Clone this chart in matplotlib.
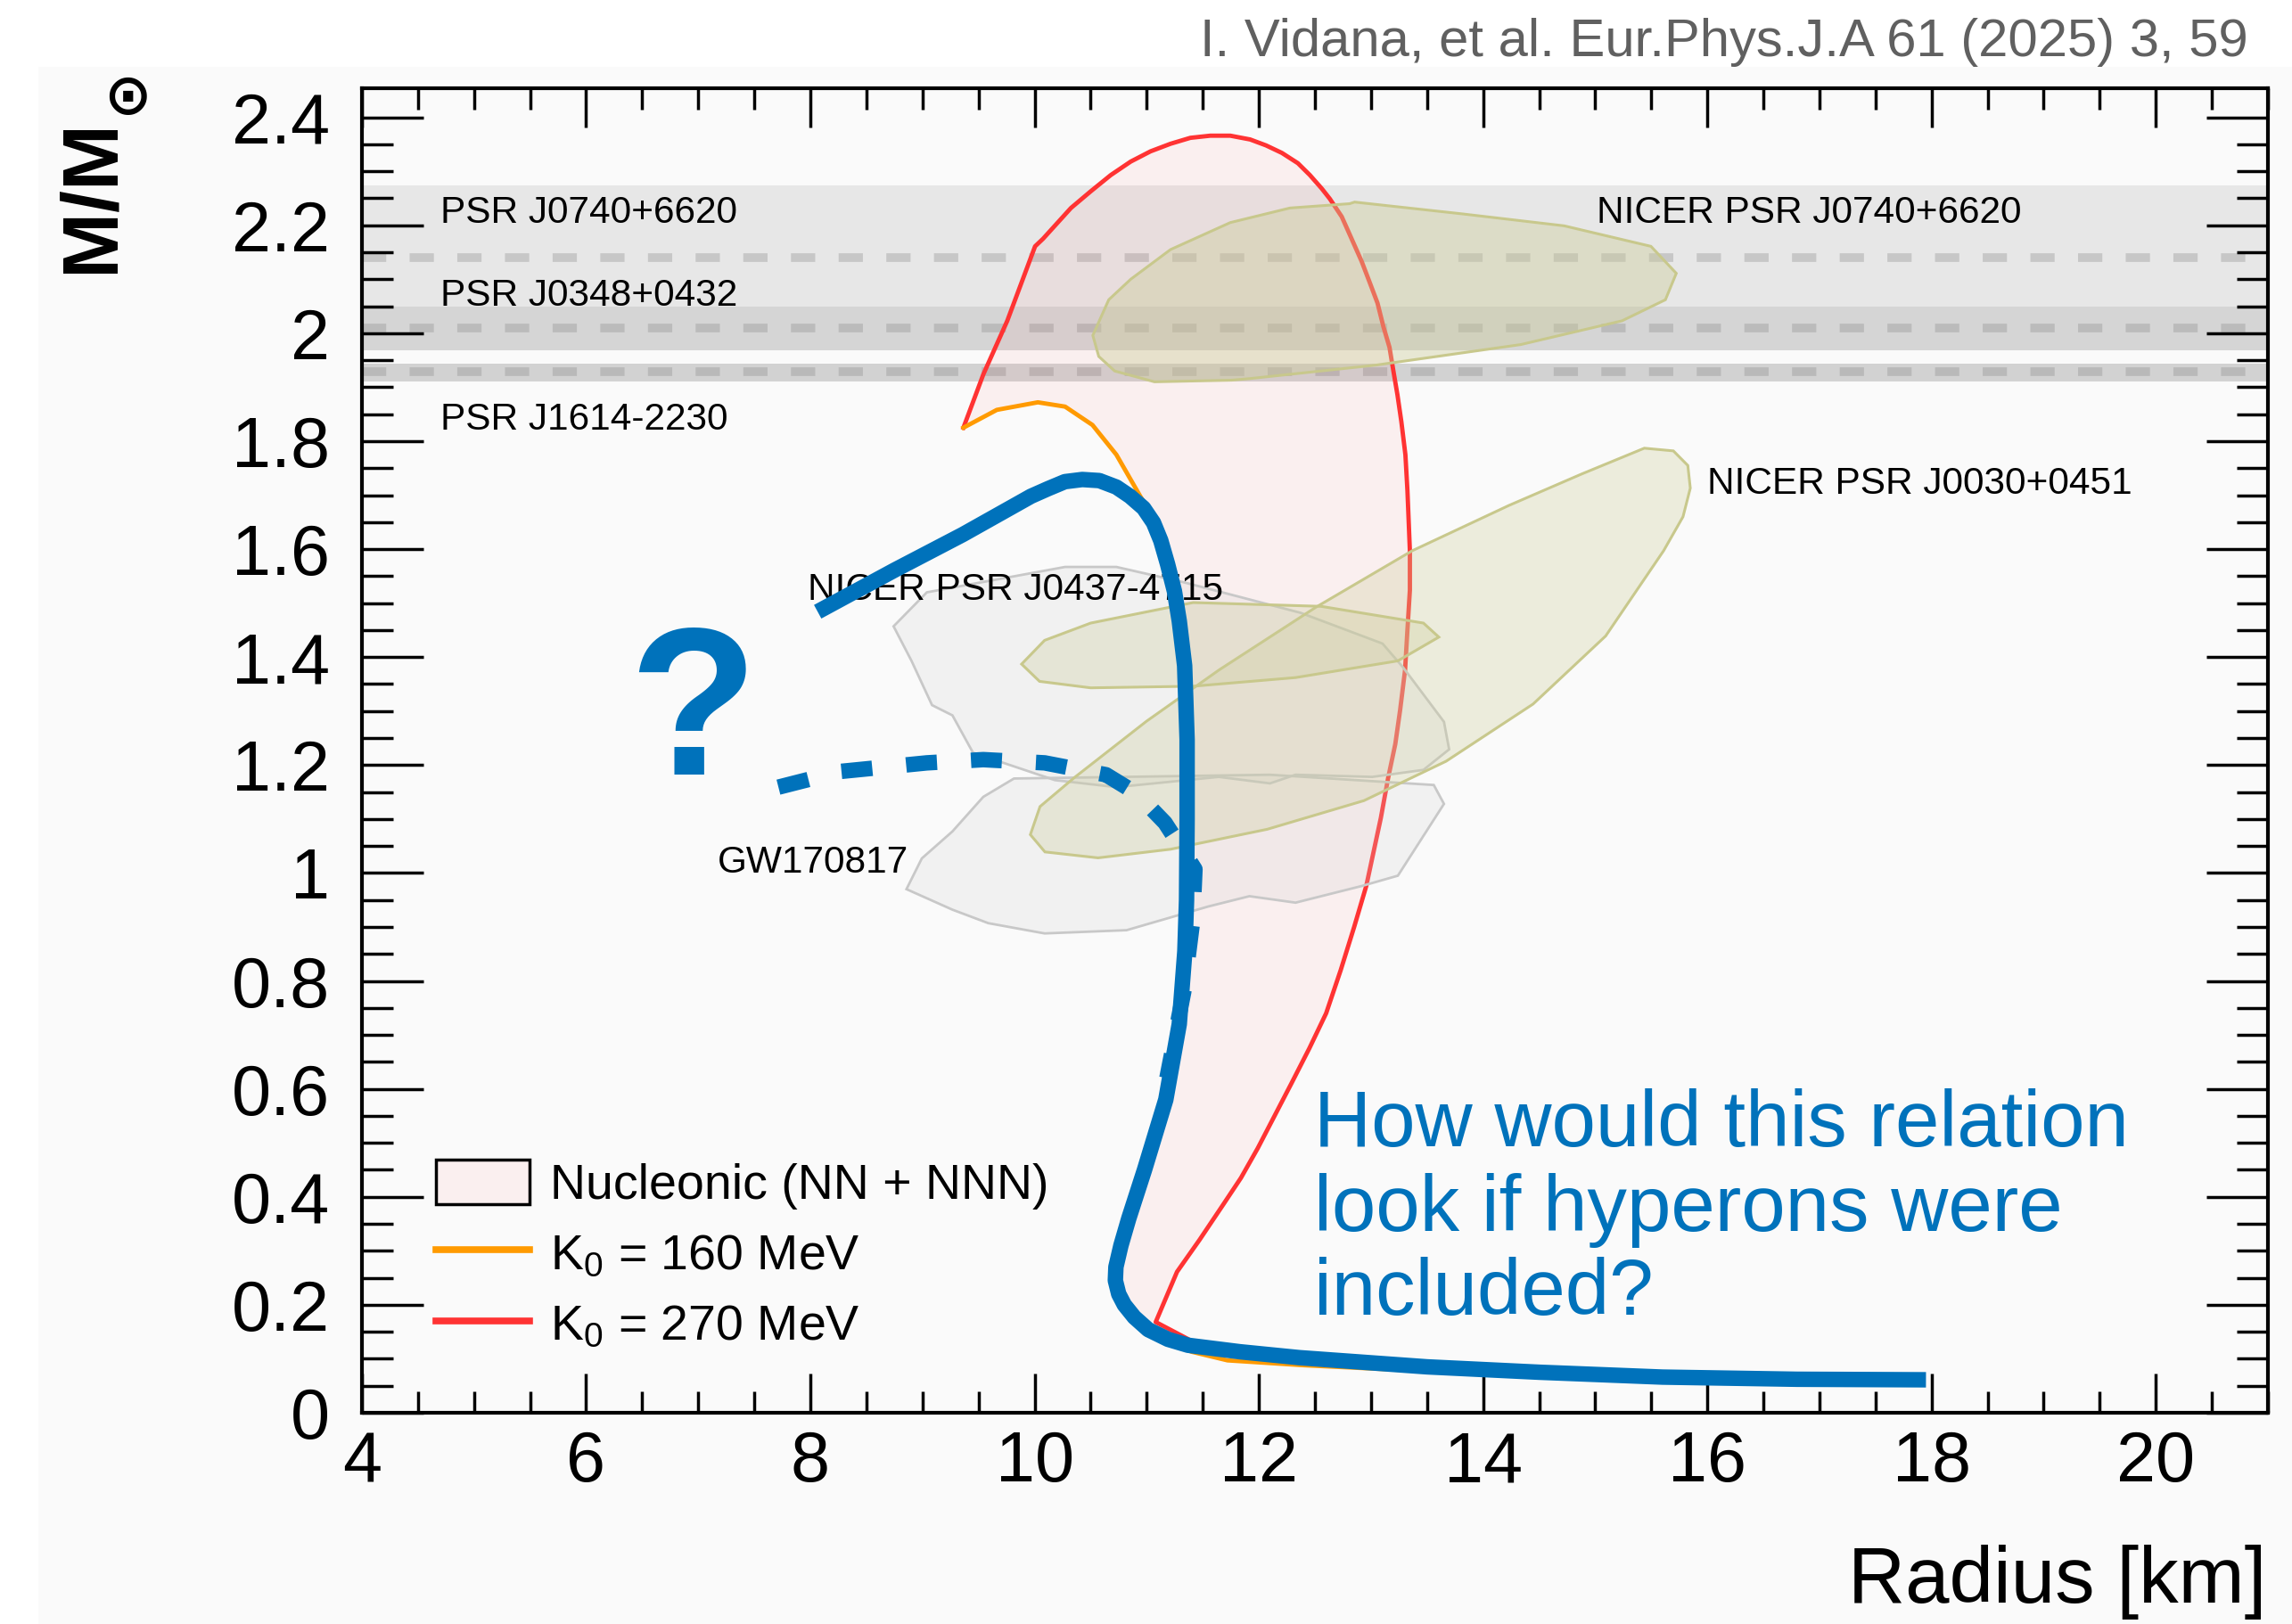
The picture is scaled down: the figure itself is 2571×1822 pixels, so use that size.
import numpy as np
import matplotlib.pyplot as plt
from matplotlib.patches import Polygon, Patch, Rectangle
from matplotlib.lines import Line2D

plt.rcParams['font.family'] = ['Liberation Sans', 'DejaVu Sans']
plt.rcParams['mathtext.fontset'] = 'custom'
plt.rcParams['mathtext.rm'] = 'Liberation Sans'
plt.rcParams['mathtext.it'] = 'Liberation Sans:italic'
plt.rcParams['mathtext.bf'] = 'Liberation Sans:bold'

# axis ticks
x_ticks = [4, 6, 8, 10, 12, 14, 16, 18, 20]
x_tick_labels = ['4', '6', '8', '10', '12', '14', '16', '18', '20']
y_ticks = [0, 0.2, 0.4, 0.6, 0.8, 1.0, 1.2, 1.4, 1.6, 1.8, 2.0, 2.2, 2.4]
y_tick_labels = ['0', '0.2', '0.4', '0.6', '0.8', '1', '1.2', '1.4', '1.6',
                 '1.8', '2', '2.2', '2.4']

# heavy pulsar mass measurements (central value and band)
psr_names = ['PSR J0740+6620', 'PSR J0348+0432', 'PSR J1614-2230']
psr_mass = [2.14, 2.01, 1.928]
psr_lo = [2.05, 1.968, 1.910]
psr_hi = [2.274, 2.05, 1.944]

# nucleonic band: K0 = 270 MeV (red) and K0 = 160 MeV (orange) edges
red_r = [9.365, 9.543, 9.756, 10.004, 10.075, 10.324, 10.501, 10.679, 10.857, 11.034,
         11.212, 11.389, 11.567, 11.745, 11.922, 12.064, 12.206, 12.348, 12.455,
         12.561, 12.633, 12.739, 12.810, 12.917, 12.987, 13.058, 13.111, 13.165,
         13.200, 13.236, 13.271, 13.307, 13.325, 13.347, 13.347, 13.325, 13.304,
         13.260, 13.217, 13.153, 13.088, 13.023, 12.958, 12.85, 12.73, 12.60,
         12.45, 12.29, 12.14, 11.99, 11.84, 11.68, 11.47, 11.27, 11.08, 11.40,
         12.0, 13.0, 14.0, 15.0, 16.5, 17.5]
red_m = [1.825, 1.924, 2.023, 2.161, 2.175, 2.232, 2.263, 2.293, 2.318, 2.337,
         2.351, 2.362, 2.366, 2.366, 2.359, 2.348, 2.334, 2.315, 2.293,
         2.268, 2.249, 2.216, 2.183, 2.133, 2.095, 2.056, 2.012, 1.974,
         1.930, 1.886, 1.836, 1.775, 1.709, 1.597, 1.524, 1.450, 1.376,
         1.302, 1.239, 1.176, 1.102, 1.039, 0.976, 0.90, 0.82, 0.74,
         0.675, 0.61, 0.55, 0.49, 0.435, 0.385, 0.32, 0.261, 0.168, 0.133,
         0.112, 0.092, 0.082, 0.074, 0.067, 0.063]
orange_r = [9.365, 9.663, 10.029, 10.272, 10.516, 10.729, 10.942, 11.09, 11.155,
            11.215, 11.275, 11.32, 11.37, 11.39, 11.39, 11.385, 11.37, 11.32,
            11.20, 11.01, 10.87, 10.80, 10.755, 10.75, 10.78, 10.83, 10.91, 11.03,
            11.40, 11.72, 12.4, 13.5, 14.5, 15.6, 16.8, 17.5]
orange_m = [1.825, 1.858, 1.872, 1.864, 1.830, 1.775, 1.698, 1.649, 1.616,
            1.572, 1.522, 1.467, 1.384, 1.247, 1.10, 0.95, 0.855, 0.72,
            0.58, 0.45, 0.36, 0.31, 0.27, 0.245, 0.22, 0.20, 0.172, 0.145,
            0.113, 0.097, 0.088, 0.077, 0.067, 0.058, 0.054, 0.053]

# blue M-R curve (nucleonic) and dashed "hyperons?" branch
blue_r = [8.065, 8.75, 9.359, 9.968, 10.12, 10.27, 10.425, 10.577, 10.729, 10.85,
          10.972, 11.06, 11.125, 11.186, 11.247, 11.29, 11.338, 11.36, 11.36,
          11.355, 11.34, 11.29, 11.17, 10.98, 10.84, 10.77, 10.725, 10.72, 10.75,
          10.80, 10.889, 11.013, 11.19, 11.368, 11.83, 12.362, 13.5, 14.5, 15.6,
          16.8, 17.95]
blue_m = [1.484, 1.561, 1.627, 1.698, 1.712, 1.725, 1.729, 1.727, 1.715, 1.698,
          1.676, 1.649, 1.616, 1.572, 1.522, 1.467, 1.384, 1.247, 1.10,
          0.95, 0.855, 0.72, 0.58, 0.45, 0.36, 0.31, 0.27, 0.245, 0.22,
          0.20, 0.177, 0.154, 0.136, 0.125, 0.113, 0.102, 0.085, 0.075, 0.066,
          0.062, 0.061]
hyp_r = [7.715, 8.263, 9.039, 9.542, 10.089, 10.637, 10.912, 11.163, 11.39,
         11.43, 11.41, 11.33, 11.18]
hyp_m = [1.159, 1.188, 1.204, 1.210, 1.204, 1.182, 1.147, 1.093, 1.02,
         1.007, 0.912, 0.78, 0.62]

# NICER contours
j0740_r = [10.519, 10.661, 10.857, 11.212, 11.745, 12.277, 12.810, 12.854, 13.820,
           14.723, 15.497, 15.723, 15.626, 15.239, 14.336, 13.047, 11.922, 11.757,
           11.069, 10.714, 10.572]
j0740_m = [1.996, 2.062, 2.100, 2.155, 2.205, 2.232, 2.240, 2.243, 2.221,
           2.199, 2.161, 2.111, 2.062, 2.023, 1.979, 1.941, 1.916, 1.913,
           1.910, 1.930, 1.957]
j0030_r = [15.438, 15.697, 15.826, 15.848, 15.783, 15.610, 15.093, 14.446, 13.670,
           12.937, 12.075, 11.213, 10.566, 10.092, 9.962, 10.048, 10.350, 10.997,
           11.644, 12.506, 13.368, 14.231, 14.877]
j0030_m = [1.787, 1.782, 1.755, 1.713, 1.660, 1.597, 1.439, 1.313, 1.207,
           1.134, 1.081, 1.044, 1.028, 1.039, 1.071, 1.123, 1.176, 1.281,
           1.376, 1.492, 1.597, 1.681, 1.739]
j0437_r = [9.884, 10.089, 10.500, 11.414, 12.555, 13.468, 13.605, 13.240, 12.327,
           11.414, 10.500, 10.044]
j0437_m = [1.387, 1.431, 1.463, 1.501, 1.494, 1.463, 1.437, 1.393, 1.362,
           1.346, 1.343, 1.355]

# GW170817 contours
gw_up_r = [8.742, 9.039, 10.272, 10.729, 11.322, 12.372, 13.103, 13.286, 13.651,
           13.697, 13.468, 13.012, 12.327, 12.099, 11.642, 10.729, 10.181, 9.450,
           9.267, 9.085, 8.902]
gw_up_m = [1.457, 1.520, 1.567, 1.567, 1.539, 1.482, 1.425, 1.381, 1.280,
           1.229, 1.191, 1.178, 1.182, 1.166, 1.178, 1.159, 1.172, 1.223,
           1.292, 1.311, 1.393]
gw_lo_r = [9.816, 12.099, 13.560, 13.651, 13.240, 12.920, 12.327, 11.916, 11.551,
           10.820, 10.089, 9.587, 9.267, 8.857, 8.994, 9.267, 9.542]
gw_lo_m = [1.175, 1.182, 1.163, 1.128, 0.995, 0.976, 0.945, 0.957, 0.938,
           0.894, 0.888, 0.907, 0.932, 0.970, 1.027, 1.077, 1.141]

legend_labels = ['Nucleonic (NN + NNN)', r'K$_{0}$ = 160 MeV', r'K$_{0}$ = 270 MeV']
note_lines = ['How would this relation', 'look if hyperons were', 'included?']

blue = '#0072bb'
red = '#ff3333'
orange = '#ff9a00'

fig = plt.figure(figsize=(25.71, 18.22), dpi=100)
fig.patch.set_facecolor('white')
fig.add_artist(Rectangle((0.0167, 0), 0.9833, 0.9588, transform=fig.transFigure,
                         facecolor='#fafafa', edgecolor='none', zorder=-10))
ax = fig.add_axes([0.1579, 0.1301, 0.8316, 0.8156])
ax.set_facecolor('#fafafa')

# pulsar bands
band_colors = ['#e7e7e7', '#d5d5d5', '#d2d2d2']
for lo, hi, c in zip(psr_lo, psr_hi, band_colors):
    ax.axhspan(lo, hi, color=c, lw=0, zorder=1)
for m in psr_mass:
    ax.axhline(m, color=(0.55, 0.55, 0.55), alpha=0.35, lw=7, dashes=(2.8, 2.7), zorder=1.5)

# nucleonic band
band_xy = np.column_stack([np.r_[red_r, orange_r[::-1]], np.r_[red_m, orange_m[::-1]]])
ax.add_patch(Polygon(band_xy, closed=True, facecolor=(1, 0.3, 0.3, 0.06),
                     edgecolor='none', zorder=2))
ax.plot(red_r, red_m, color=red, lw=3.5, zorder=3)
ax.plot(orange_r, orange_m, color=orange, lw=3.5, zorder=3)

# GW170817
for rr, mm in [(gw_up_r, gw_up_m), (gw_lo_r, gw_lo_m)]:
    ax.add_patch(Polygon(np.column_stack([rr, mm]), closed=True,
                         facecolor=(0.82, 0.82, 0.82, 0.22), edgecolor='#c8c8c8',
                         lw=2, zorder=4))

# NICER
for rr, mm, a in [(j0740_r, j0740_m, 0.40), (j0030_r, j0030_m, 0.30),
                  (j0437_r, j0437_m, 0.30)]:
    ax.add_patch(Polygon(np.column_stack([rr, mm]), closed=True,
                         facecolor=(0.80, 0.80, 0.60, a), edgecolor='#c8c88c',
                         lw=2.2, zorder=5))

# labels
lab = dict(fontsize=30.5, color='black', ha='left', va='baseline', zorder=6)
ax.text(4.70, 2.205, psr_names[0], **lab)
ax.text(4.70, 2.051, psr_names[1], **lab)
ax.text(4.70, 1.822, psr_names[2], **lab)
ax.text(15.01, 2.205, 'NICER PSR J0740+6620', **lab)
ax.text(16.0, 1.702, 'NICER PSR J0030+0451', **lab)
ax.text(7.974, 1.506, 'NICER PSR J0437-4715', **lab)
ax.text(7.17, 1.0, 'GW170817', **lab)

# blue curves
ax.plot(blue_r, blue_m, color=blue, lw=12.5, solid_capstyle='butt',
        solid_joinstyle='round', zorder=7)
ax.plot(hyp_r, hyp_m, color=blue, lw=12.5, dashes=(2.0, 2.2),
        dash_capstyle='butt', zorder=7)
ax.text(6.95, 1.1825, '?', fontsize=170, fontweight='bold', color=blue,
        ha='center', va='baseline', zorder=8)
for line, y in zip(note_lines, [0.493, 0.336, 0.182]):
    ax.text(12.49, y, line, fontsize=64, color=blue, ha='left', va='baseline', zorder=8)

# legend
handles = [Patch(facecolor=(1, 0.3, 0.3, 0.06), edgecolor='black', lw=2.5),
           Line2D([], [], color=orange, lw=5.5),
           Line2D([], [], color=red, lw=5.5)]
ax.legend(handles, legend_labels, loc='upper left', bbox_to_anchor=(0.0388, 0.191),
          frameon=False, fontsize=40, handlelength=1.9, handleheight=1.0,
          handletextpad=0.41, labelspacing=0.42, borderpad=0, borderaxespad=0)

# axes
ax.set_xlim(4, 21)
ax.set_ylim(0, 2.454)
ax.set_xticks(x_ticks)
ax.set_xticklabels(x_tick_labels)
ax.set_xticks(np.arange(4, 21.01, 0.5), minor=True)
ax.set_yticks(y_ticks)
ax.set_yticklabels(y_tick_labels)
ax.set_yticks(np.arange(0, 2.41, 0.05), minor=True)
ax.tick_params(which='both', direction='in', top=True, right=True, width=2.5,
               labelsize=57)
ax.tick_params(axis='x', which='major', length=32, pad=14)
ax.tick_params(axis='x', which='minor', length=17)
ax.tick_params(axis='y', which='major', length=50, pad=26)
ax.tick_params(axis='y', which='minor', length=25)
for s in ax.spines.values():
    s.set_linewidth(3)
    s.set_zorder(10)

# y title in ROOT style (top aligned), x title right aligned
fig.text(104 / 2571, 1 - 133 / 1822, 'M/M', rotation=90, ha='center', va='top',
         fontsize=64, fontweight='bold')
fig.text(143 / 2571, 1 - 110 / 1822, '\u2299', ha='center', va='center',
         fontsize=46, fontweight='bold', family='DejaVu Sans')
fig.text(2542 / 2571, 1 - 1798 / 1822, 'Radius [km]', ha='right', va='baseline',
         fontsize=64)
fig.text(2522 / 2571, 1 - 63 / 1822, 'I. Vidana, et al. Eur.Phys.J.A 61 (2025) 3, 59',
         ha='right', va='baseline', fontsize=43, color='#606060')

fig.savefig('out.png', dpi=100)
